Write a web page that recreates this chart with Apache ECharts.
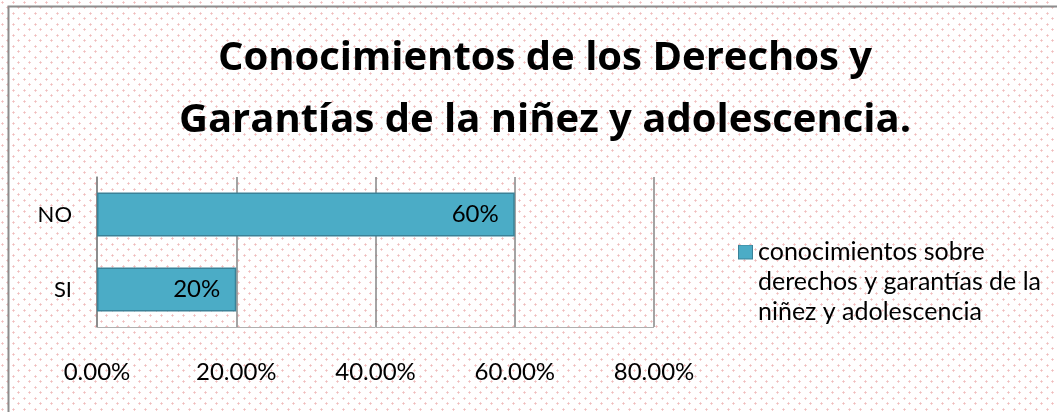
<!DOCTYPE html>
<html>
<head>
<meta charset="utf-8">
<script src="https://cdn.jsdelivr.net/npm/echarts@6/dist/echarts.min.js"></script>
<style>
  html, body { margin: 0; padding: 0; background: #fff; }
  #main { width: 1057px; height: 412px; }
</style>
</head>
<body>
<div id="main"></div>
<script>
// datos
var categories = ['SI', 'NO'];
var values = [0.2, 0.6];
var seriesName = 'conocimientos sobre\nderechos y garantías de la\nniñez y adolescencia';
var tickLabels = ['0.00%', '20.00%', '40.00%', '60.00%', '80.00%'];

// fondo punteado
var tile = document.createElement('canvas');
tile.width = 11;
tile.height = 11;
var ctx = tile.getContext('2d');
ctx.fillStyle = '#ffffff';
ctx.fillRect(0, 0, 11, 11);
function dot(x, y) {
  ctx.fillStyle = 'rgba(235,170,170,0.55)';
  ctx.fillRect(x, y - 1, 1, 3);
  ctx.fillRect(x - 1, y, 3, 1);
}
dot(2, 2);
dot(7, 7);

// icono de la leyenda alineado con la primera línea
var ic = document.createElement('canvas');
ic.width = 15;
ic.height = 75;
var ictx = ic.getContext('2d');
ictx.fillStyle = '#4BACC6';
ictx.fillRect(0, 0, 15, 15);
ictx.strokeStyle = '#3A8298';
ictx.lineWidth = 1;
ictx.strokeRect(0.5, 0.5, 14, 14);
var legendIcon = 'image://' + ic.toDataURL();

var myChart = echarts.init(document.getElementById('main'));

var options = {
  backgroundColor: { image: tile, repeat: 'repeat' },
  animation: false,
  color: ['#4BACC6'],
  title: {
    text: 'Conocimientos de los Derechos y\nGarantías de la niñez y adolescencia.',
    left: 540,
    textAlign: 'center',
    top: 23,
    textStyle: {
      fontFamily: 'Open Sans',
      fontWeight: 'bold',
      fontSize: 40,
      lineHeight: 62,
      color: '#000'
    }
  },
  legend: {
    left: 733,
    top: 232,
    itemWidth: 15,
    itemHeight: 75,
    icon: legendIcon,
    textStyle: {
      fontFamily: 'Lato',
      fontSize: 25,
      lineHeight: 30,
      color: '#000'
    }
  },
  grid: {
    left: 97,
    right: 1057 - 654,
    top: 177,
    bottom: 412 - 327
  },
  xAxis: {
    type: 'value',
    min: 0,
    max: 0.8,
    interval: 0.2,
    axisLine: { show: false },
    axisTick: { show: false },
    splitLine: { lineStyle: { color: '#868686', width: 1.5 } },
    axisLabel: {
      margin: 33,
      fontFamily: 'Lato',
      fontSize: 24,
      color: '#000',
      formatter: function (v) { return tickLabels[Math.round(v / 0.2)]; }
    }
  },
  yAxis: {
    type: 'category',
    data: categories,
    axisLine: { show: true, lineStyle: { color: '#868686', width: 1.5 } },
    axisTick: { show: false },
    axisLabel: {
      margin: 25,
      fontFamily: 'Lato',
      fontSize: 22,
      color: '#000'
    }
  },
  series: [
    {
      name: seriesName,
      type: 'bar',
      data: values,
      barWidth: 44,
      itemStyle: { borderColor: '#3A8298', borderWidth: 1.5 },
      label: {
        show: true,
        position: 'insideRight',
        distance: 16,
        fontFamily: 'Lato',
        fontSize: 24,
        color: '#000',
        formatter: function (p) { return Math.round(p.value * 100) + '%'; }
      }
    }
  ],
  graphic: [
    {
      type: 'rect',
      shape: { x: 8.5, y: 6.5, width: 1060, height: 420 },
      style: { fill: 'none', stroke: '#8c8c8c', lineWidth: 2 },
      silent: true
    },
    {
      type: 'line',
      shape: { x1: 97, y1: 327.5, x2: 654, y2: 327.5 },
      style: { stroke: '#b0b0b0', lineWidth: 1 },
      silent: true,
      z: 10
    }
  ]
};

myChart.setOption(options);
</script>
</body>
</html>
